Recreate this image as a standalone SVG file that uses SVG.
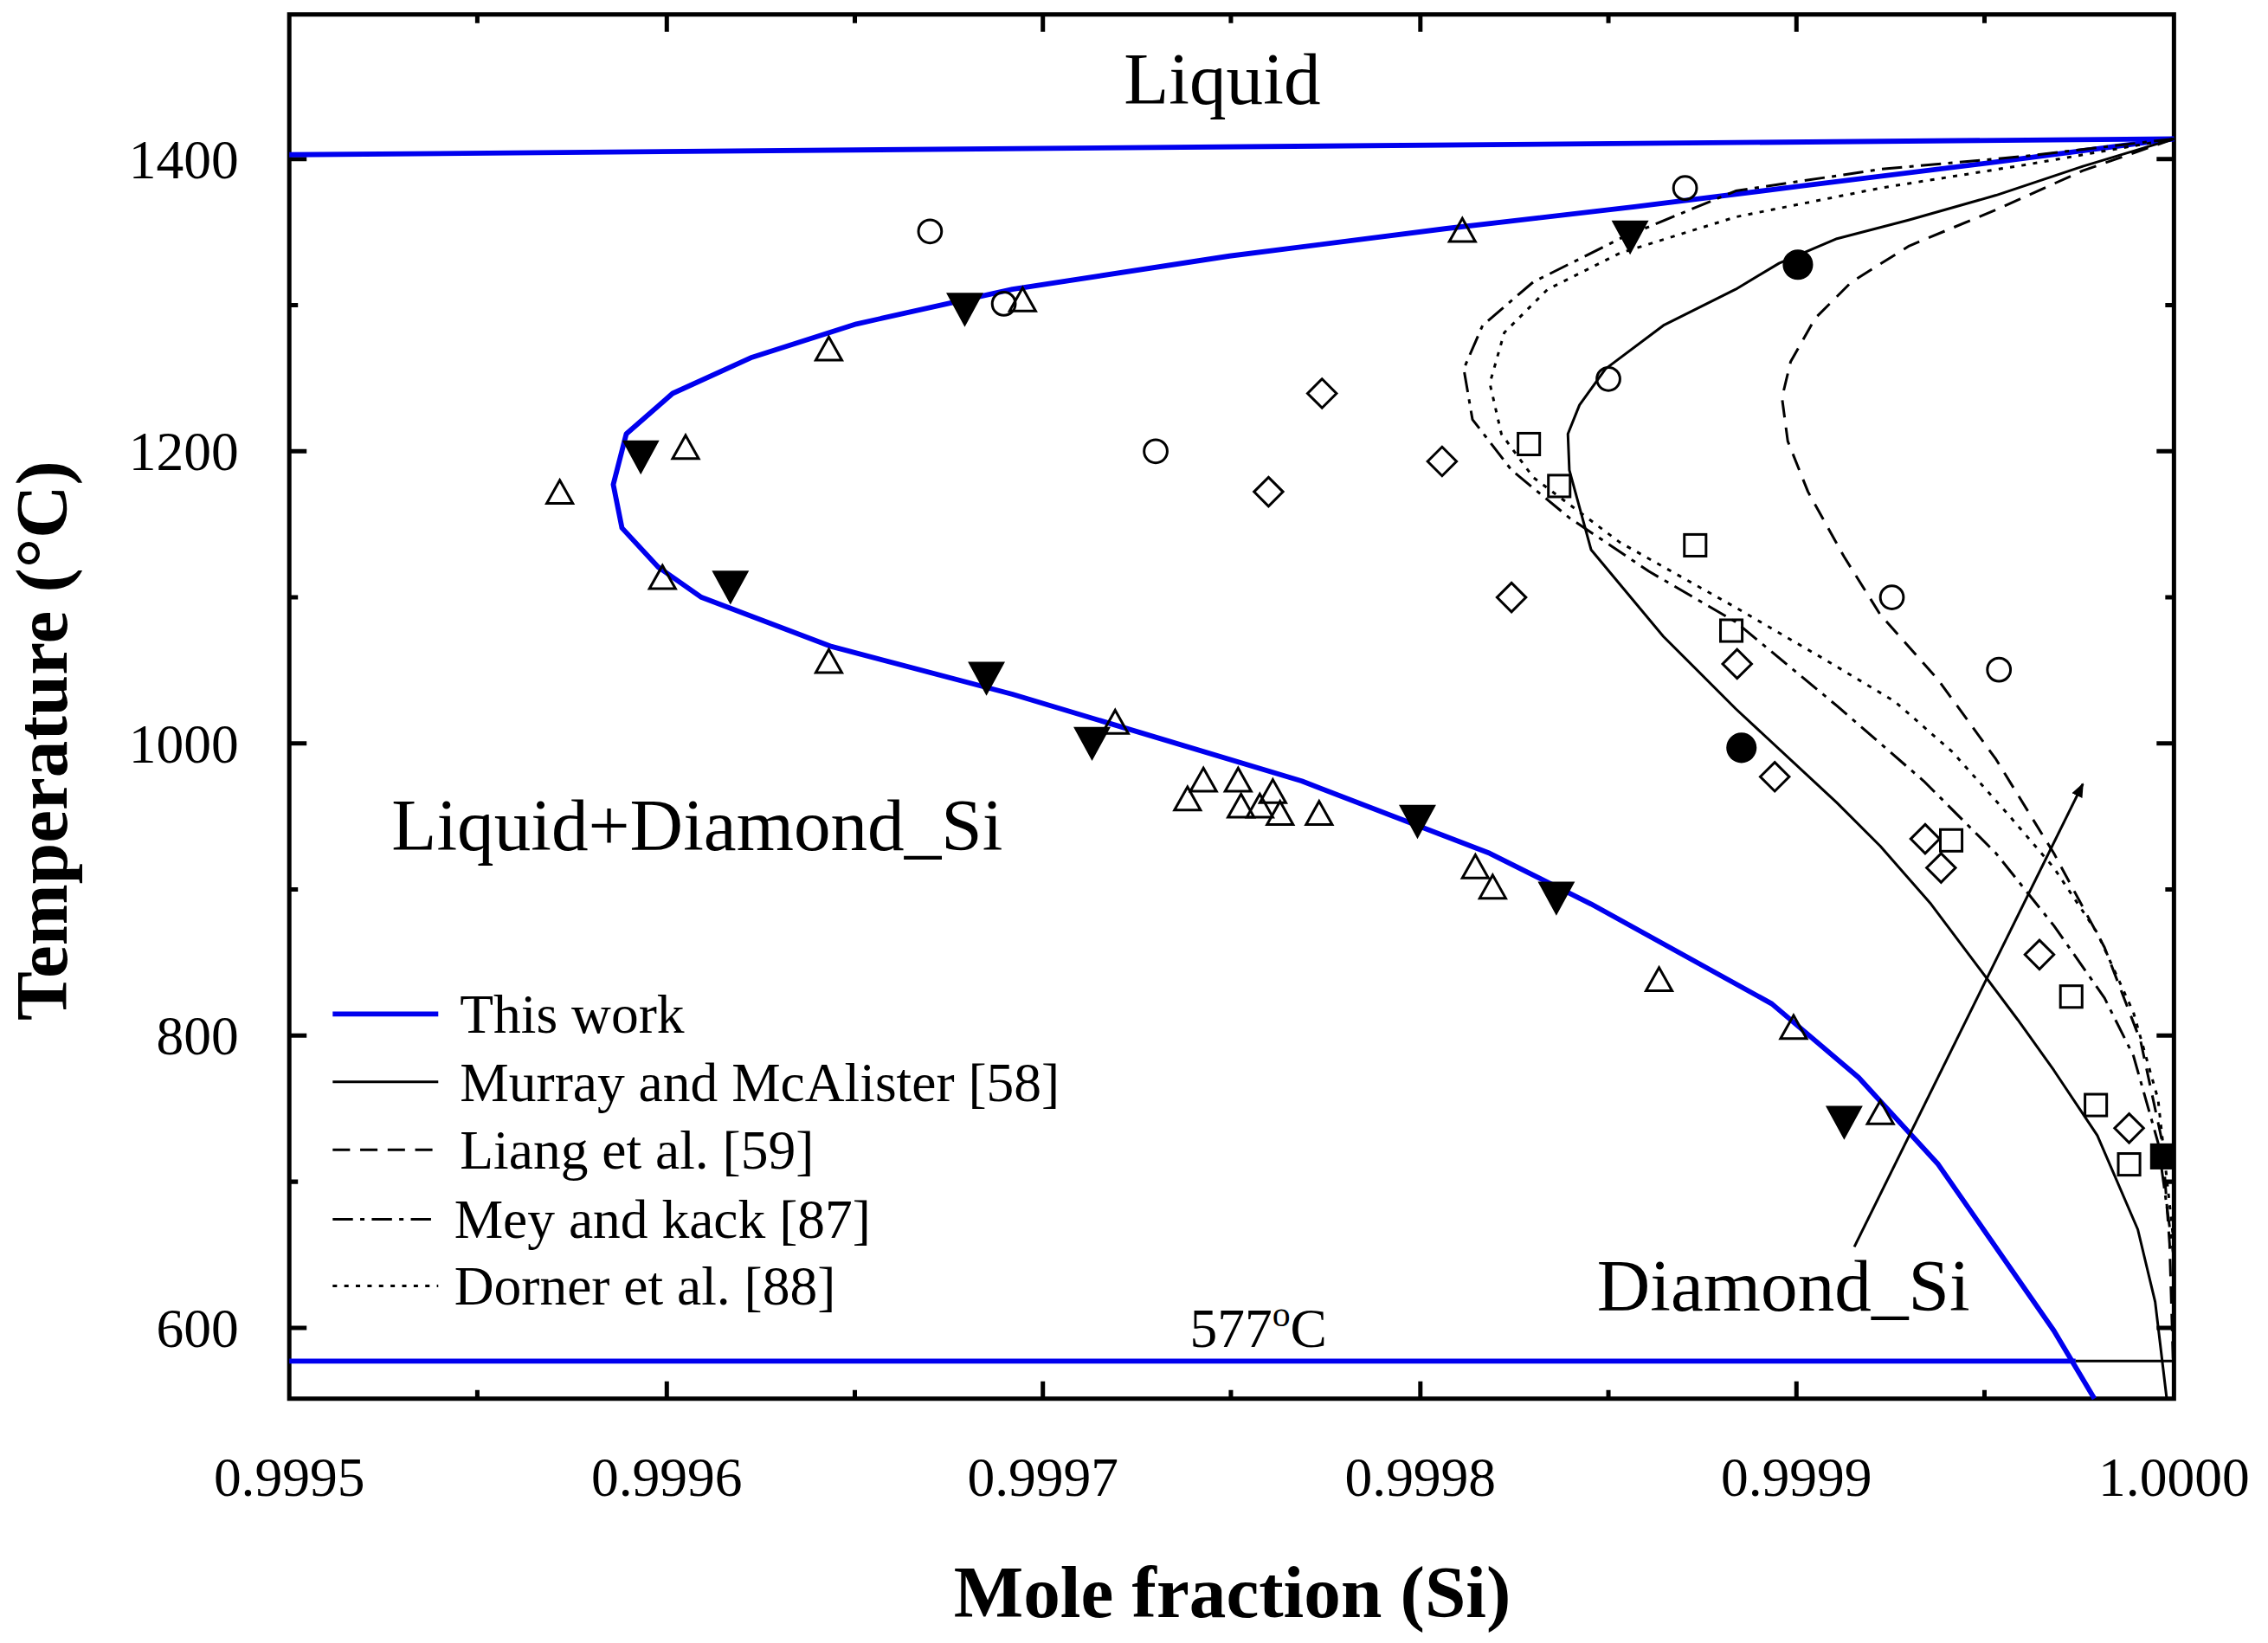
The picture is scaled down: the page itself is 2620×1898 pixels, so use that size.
<svg xmlns="http://www.w3.org/2000/svg" width="2620" height="1898" viewBox="0 0 2620 1898">
<style>
text{font-family:"Liberation Serif",serif;fill:#000}
.t{font-size:38px}
.big{font-size:51px}
.c{fill:none;stroke:#000;stroke-width:1.8;stroke-linejoin:round}
.blue{fill:none;stroke:#0000ee;stroke-width:3.5;stroke-linejoin:round}
.o{fill:none;stroke:#000;stroke-width:1.8}
.f{fill:#000;stroke:#000}
</style>
<defs>
<circle id="ci" r="8"/>
<path id="tu" d="M0,-9 L9,7 L-9,7Z"/>
<path id="td" d="M-12,-10 L12,-10 L0,12Z"/>
<path id="di" d="M0,-10 L10,0 L0,10 L-10,0Z"/>
<rect id="sq" x="-7.5" y="-7.5" width="15" height="15"/>
<marker id="ah" markerWidth="10" markerHeight="10" refX="9" refY="5" orient="auto" markerUnits="userSpaceOnUse"><path d="M0,1 L10,5 L0,9Z"/></marker>
</defs>
<rect width="2620" height="1898" fill="#fff"/>
<g transform="scale(1.6709)">
<g id="axes" fill="none" stroke="#000" stroke-width="3">
<rect x="200" y="10" width="1303" height="957"/>
<path d="M461,967v-12M721,967v-12M982,967v-12M1242,967v-12M330,967v-6M591,967v-6M851,967v-6M1112,967v-6M1372,967v-6
M461,10v12M721,10v12M982,10v12M1242,10v12M330,10v6M591,10v6M851,10v6M1112,10v6M1372,10v6
M200,110h12M200,312h12M200,514h12M200,716h12M200,918h12M200,211h6M200,413h6M200,615h6M200,817h6
M1503,110h-12M1503,312h-12M1503,514h-12M1503,716h-12M1503,918h-12M1503,211h-6M1503,413h-6M1503,615h-6M1503,817h-6"/>
</g>
<g id="ticklabels">
<text x="200" y="1034" text-anchor="middle" class="t">0.9995</text>
<text x="461" y="1034" text-anchor="middle" class="t">0.9996</text>
<text x="721" y="1034" text-anchor="middle" class="t">0.9997</text>
<text x="982" y="1034" text-anchor="middle" class="t">0.9998</text>
<text x="1242" y="1034" text-anchor="middle" class="t">0.9999</text>
<text x="1503" y="1034" text-anchor="middle" class="t">1.0000</text>
<text x="165" y="123" text-anchor="end" class="t">1400</text>
<text x="165" y="325" text-anchor="end" class="t">1200</text>
<text x="165" y="527" text-anchor="end" class="t">1000</text>
<text x="165" y="729" text-anchor="end" class="t">800</text>
<text x="165" y="931" text-anchor="end" class="t">600</text>
</g>
<text x="852" y="1118" text-anchor="middle" class="big" font-weight="bold">Mole fraction (Si)</text>
<text transform="translate(46,512) rotate(-90)" text-anchor="middle" class="big" font-weight="bold">Temperature (°C)</text>
<g id="connectors">
<path class="blue" d="M200,107 L1503,96"/>
<path class="blue" d="M200,941 L1435,941"/>
<path class="c" stroke-width="1.2" d="M1435,941 L1503,941"/>
<path class="blue" d="M1503,96 L1380,112 L1250,128 L1130,143 L1000,158 L850,177 L700,200 L592,224 L520,247 L465,272 L433,300 L424,335 L430,365 L455,392 L485,413 L575,447 L700,480 L800,510 L900,540 L1030,590 L1100,625 L1225,694 L1285,745 L1340,805 L1420,920 L1448,967"/>
<path class="c" d="M1503,96 L1440,115 L1380,135 L1320,152 L1270,165 L1230,182 L1200,200 L1150,225 L1110,255 L1092,280 L1084,300 L1085,325 L1100,380 L1150,440 L1200,490 L1270,555 L1300,585 L1335,625 L1365,665 L1395,705 L1420,740 L1450,785 L1478,850 L1490,900 L1498,967"/>
<path class="c" stroke-dasharray="12,7" d="M1503,96 L1440,118 L1380,145 L1320,170 L1280,195 L1255,220 L1238,250 L1232,275 L1236,305 L1250,340 L1275,385 L1300,425 L1340,470 L1380,525 L1420,590 L1455,655 L1480,720 L1495,790 L1500,860 L1503,960"/>
<path class="c" stroke-dasharray="14,5,3,5" d="M1503,96 L1400,108 L1300,117 L1200,132 L1120,165 L1060,195 L1025,225 L1012,255 L1018,290 L1045,325 L1085,358 L1140,395 L1200,430 L1270,488 L1330,540 L1380,590 L1420,640 L1455,690 L1475,730 L1492,790 L1503,870"/>
<path class="c" stroke-dasharray="3,5" d="M1503,96 L1400,114 L1300,130 L1200,150 L1120,175 L1070,200 L1040,230 L1030,265 L1038,300 L1060,330 L1120,375 L1200,420 L1260,455 L1310,485 L1350,520 L1390,565 L1420,600 L1450,645 L1475,700 L1492,760 L1503,860"/>
<path class="c" stroke-width="2" marker-end="url(#ah)" d="M1282,862 L1440,542"/>
</g>
<g id="data">
<g class="o">
<use href="#ci" x="643" y="160"/><use href="#ci" x="694" y="210"/><use href="#ci" x="1165" y="130"/><use href="#ci" x="799" y="312"/><use href="#ci" x="1112" y="262"/><use href="#ci" x="1308" y="413"/><use href="#ci" x="1382" y="463"/>
<use href="#tu" x="1011" y="160"/><use href="#tu" x="707" y="208"/><use href="#tu" x="573" y="242"/><use href="#tu" x="387" y="341"/><use href="#tu" x="474" y="310"/><use href="#tu" x="458" y="400"/><use href="#tu" x="573" y="458"/><use href="#tu" x="771" y="500"/><use href="#tu" x="821" y="553"/><use href="#tu" x="832" y="540"/><use href="#tu" x="856" y="540"/><use href="#tu" x="858" y="558"/><use href="#tu" x="871" y="558"/><use href="#tu" x="880" y="548"/><use href="#tu" x="885" y="563"/><use href="#tu" x="912" y="563"/><use href="#tu" x="1020" y="600"/><use href="#tu" x="1032" y="614"/><use href="#tu" x="1147" y="678"/><use href="#tu" x="1240" y="711"/><use href="#tu" x="1300" y="770"/>
<use href="#di" x="914" y="272"/><use href="#di" x="877" y="340"/><use href="#di" x="997" y="319"/><use href="#di" x="1045" y="413"/><use href="#di" x="1201" y="459"/><use href="#di" x="1227" y="537"/><use href="#di" x="1331" y="580"/><use href="#di" x="1342" y="600"/><use href="#di" x="1410" y="660"/><use href="#di" x="1472" y="780"/>
<use href="#sq" x="1057" y="307"/><use href="#sq" x="1078" y="336"/><use href="#sq" x="1172" y="377"/><use href="#sq" x="1197" y="436"/><use href="#sq" x="1349" y="581"/><use href="#sq" x="1432" y="689"/><use href="#sq" x="1449" y="764"/><use href="#sq" x="1472" y="805"/>
</g>
<g class="f">
<circle cx="1243" cy="183" r="10"/><circle cx="1204" cy="517" r="10"/>
<rect x="1487" y="791" width="16" height="17"/>
<use href="#td" x="1127" y="163"/><use href="#td" x="667" y="213"/><use href="#td" x="443" y="315"/><use href="#td" x="505" y="405"/><use href="#td" x="682" y="468"/><use href="#td" x="755" y="513"/><use href="#td" x="980" y="567"/><use href="#td" x="1076" y="620"/><use href="#td" x="1275" y="775"/>
</g>
</g>
<g id="labels">
<text x="845" y="72" text-anchor="middle" class="big">Liquid</text>
<text x="482" y="588" text-anchor="middle" class="big">Liquid+Diamond_Si</text>
<text x="1233" y="906" text-anchor="middle" class="big">Diamond_Si</text>
<text x="870" y="931" text-anchor="middle" class="t">577<tspan dy="-14" font-size="25">o</tspan><tspan dy="14">C</tspan></text>
</g>
<g id="legend">
<path class="blue" d="M230,701h73"/>
<path class="c" d="M230,748h73"/>
<path class="c" stroke-dasharray="12,7" d="M230,795h73"/>
<path class="c" stroke-dasharray="14,5,3,5" d="M230,843h73"/>
<path class="c" stroke-dasharray="3,5" d="M230,889h73"/>
<text x="318" y="714" class="t">This work</text>
<text x="318" y="761" class="t">Murray and McAlister [58]</text>
<text x="318" y="808" class="t">Liang et al. [59]</text>
<text x="314" y="856" class="t">Mey and kack [87]</text>
<text x="314" y="902" class="t">Dorner et al. [88]</text>
</g>
</g>
</svg>
